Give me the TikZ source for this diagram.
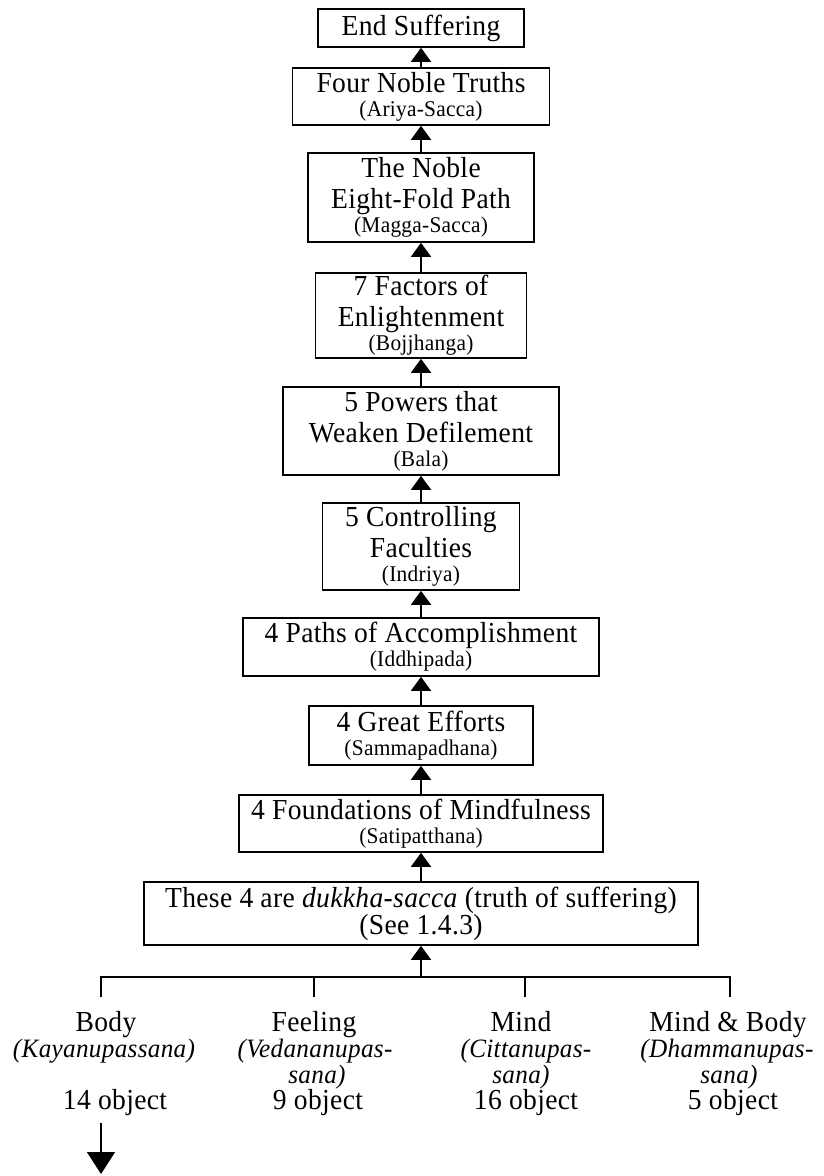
\documentclass[tikz,border=0pt]{standalone}
\usepackage{fontspec}
\setmainfont{Liberation Serif}[FakeStretch=0.95, LetterSpace=1.2]
\usetikzlibrary{arrows.meta}
\newcommand\mainfs{\fontsize{29}{31}\selectfont}
\newcommand\palifs{\fontsize{22.5}{24}\selectfont}
\newcommand\itfs{\fontsize{26.5}{28}\selectfont\itshape}
\begin{document}
\begin{tikzpicture}[x=1pt,y=-1pt,
  box/.style={draw, line width=1.6pt, inner sep=0pt, align=center, font=\mainfs},
  up/.style={line width=1.5pt, -{Triangle[width=20pt,length=14pt]}},
  down/.style={line width=1.5pt, -{Triangle[width=28pt,length=22pt]}},
  rule/.style={line width=1.5pt},
  head/.style={anchor=base, inner sep=0pt, font=\mainfs},
  pali/.style={anchor=base, inner sep=0pt, font=\itfs},
  count/.style={anchor=base, inner sep=0pt, font=\mainfs}]
\fill[white] (0,0) rectangle (823,1176);
\useasboundingbox (0,0) rectangle (823,1176);

% the chain of boxes, from the goal at the top down to the foundations
\node[box, minimum width=206pt, minimum height=38pt] (end) at (421,28) {End Suffering};
\node[box, minimum width=257pt, minimum height=57pt] (truths) at (421,96.5)
  {Four Noble Truths\\[-7pt]{\palifs (Ariya-Sacca)}};
\node[box, minimum width=226pt, minimum height=89pt] (path) at (421,197.5)
  {The Noble\\Eight-Fold Path\\[-7pt]{\palifs (Magga-Sacca)}};
\node[box, minimum width=211pt, minimum height=85pt] (factors) at (421,315.5)
  {7 Factors of\\Enlightenment\\[-7pt]{\palifs (Bojjhanga)}};
\node[box, minimum width=276pt, minimum height=88pt] (powers) at (421,431)
  {5 Powers that\\Weaken Defilement\\[-7pt]{\palifs (Bala)}};
\node[box, minimum width=197pt, minimum height=87pt] (faculties) at (421,546.5)
  {5 Controlling\\Faculties\\[-7pt]{\palifs (Indriya)}};
\node[box, minimum width=356pt, minimum height=58pt] (paths) at (421,647)
  {4 Paths of Accomplishment\\[-7pt]{\palifs (Iddhipada)}};
\node[box, minimum width=224pt, minimum height=59pt] (efforts) at (421,735.5)
  {4 Great Efforts\\[-7pt]{\palifs (Sammapadhana)}};
\node[box, minimum width=364pt, minimum height=57pt] (found) at (421,823.5)
  {4 Foundations of Mindfulness\\[-7pt]{\palifs (Satipatthana)}};
\node[box, minimum width=554pt, minimum height=63pt] (suffer) at (421,913.5)
  {These 4 are \textit{dukkha-sacca} (truth of suffering)\\[-4pt](See 1.4.3)};

\draw[up] (truths.north) -- (end.south);
\draw[up] (path.north) -- (truths.south);
\draw[up] (factors.north) -- (path.south);
\draw[up] (powers.north) -- (factors.south);
\draw[up] (faculties.north) -- (powers.south);
\draw[up] (paths.north) -- (faculties.south);
\draw[up] (efforts.north) -- (paths.south);
\draw[up] (found.north) -- (efforts.south);
\draw[up] (suffer.north) -- (found.south);

% the bracket joining the four foundations
\coordinate (join) at (421,977);
\coordinate (bl) at (101,977);
\coordinate (br) at (730,977);
\coordinate (t1) at (101,997);
\coordinate (t2) at (314,977);
\coordinate (t2e) at (314,997);
\coordinate (t3) at (525,977);
\coordinate (t3e) at (525,997);
\coordinate (t4) at (730,997);
\draw[rule] (t1) -- (bl) -- (br) -- (t4);
\draw[rule] (t2) -- (t2e);
\draw[rule] (t3) -- (t3e);
\draw[up] (join) -- (suffer.south);

% the four foundations
\node[head] (h1) at (106,1031) {Body};
\node[head] (h2) at (314,1031) {Feeling};
\node[head] (h3) at (521,1031) {Mind};
\node[head] (h4) at (728,1031) {Mind \& Body};

\node[pali] (p1) at (104,1057) {(Kayanupassana)};
\node[pali] (p2) at (315,1057) {(Vedananupas-};
\node[pali] (p3) at (526,1057) {(Cittanupas-};
\node[pali] (p4) at (727,1057) {(Dhammanupas-};

\node[pali] (s2) at (317,1083) {sana)};
\node[pali] (s3) at (521,1083) {sana)};
\node[pali] (s4) at (729,1083) {sana)};

\node[count] (c1) at (115,1109) {14 object};
\node[count] (c2) at (318,1109) {9 object};
\node[count] (c3) at (526,1109) {16 object};
\node[count] (c4) at (733,1109) {5 object};

\coordinate (dstart) at (101,1123);
\coordinate (dend) at (101,1174);
\draw[down] (dstart) -- (dend);
\end{tikzpicture}
\end{document}
